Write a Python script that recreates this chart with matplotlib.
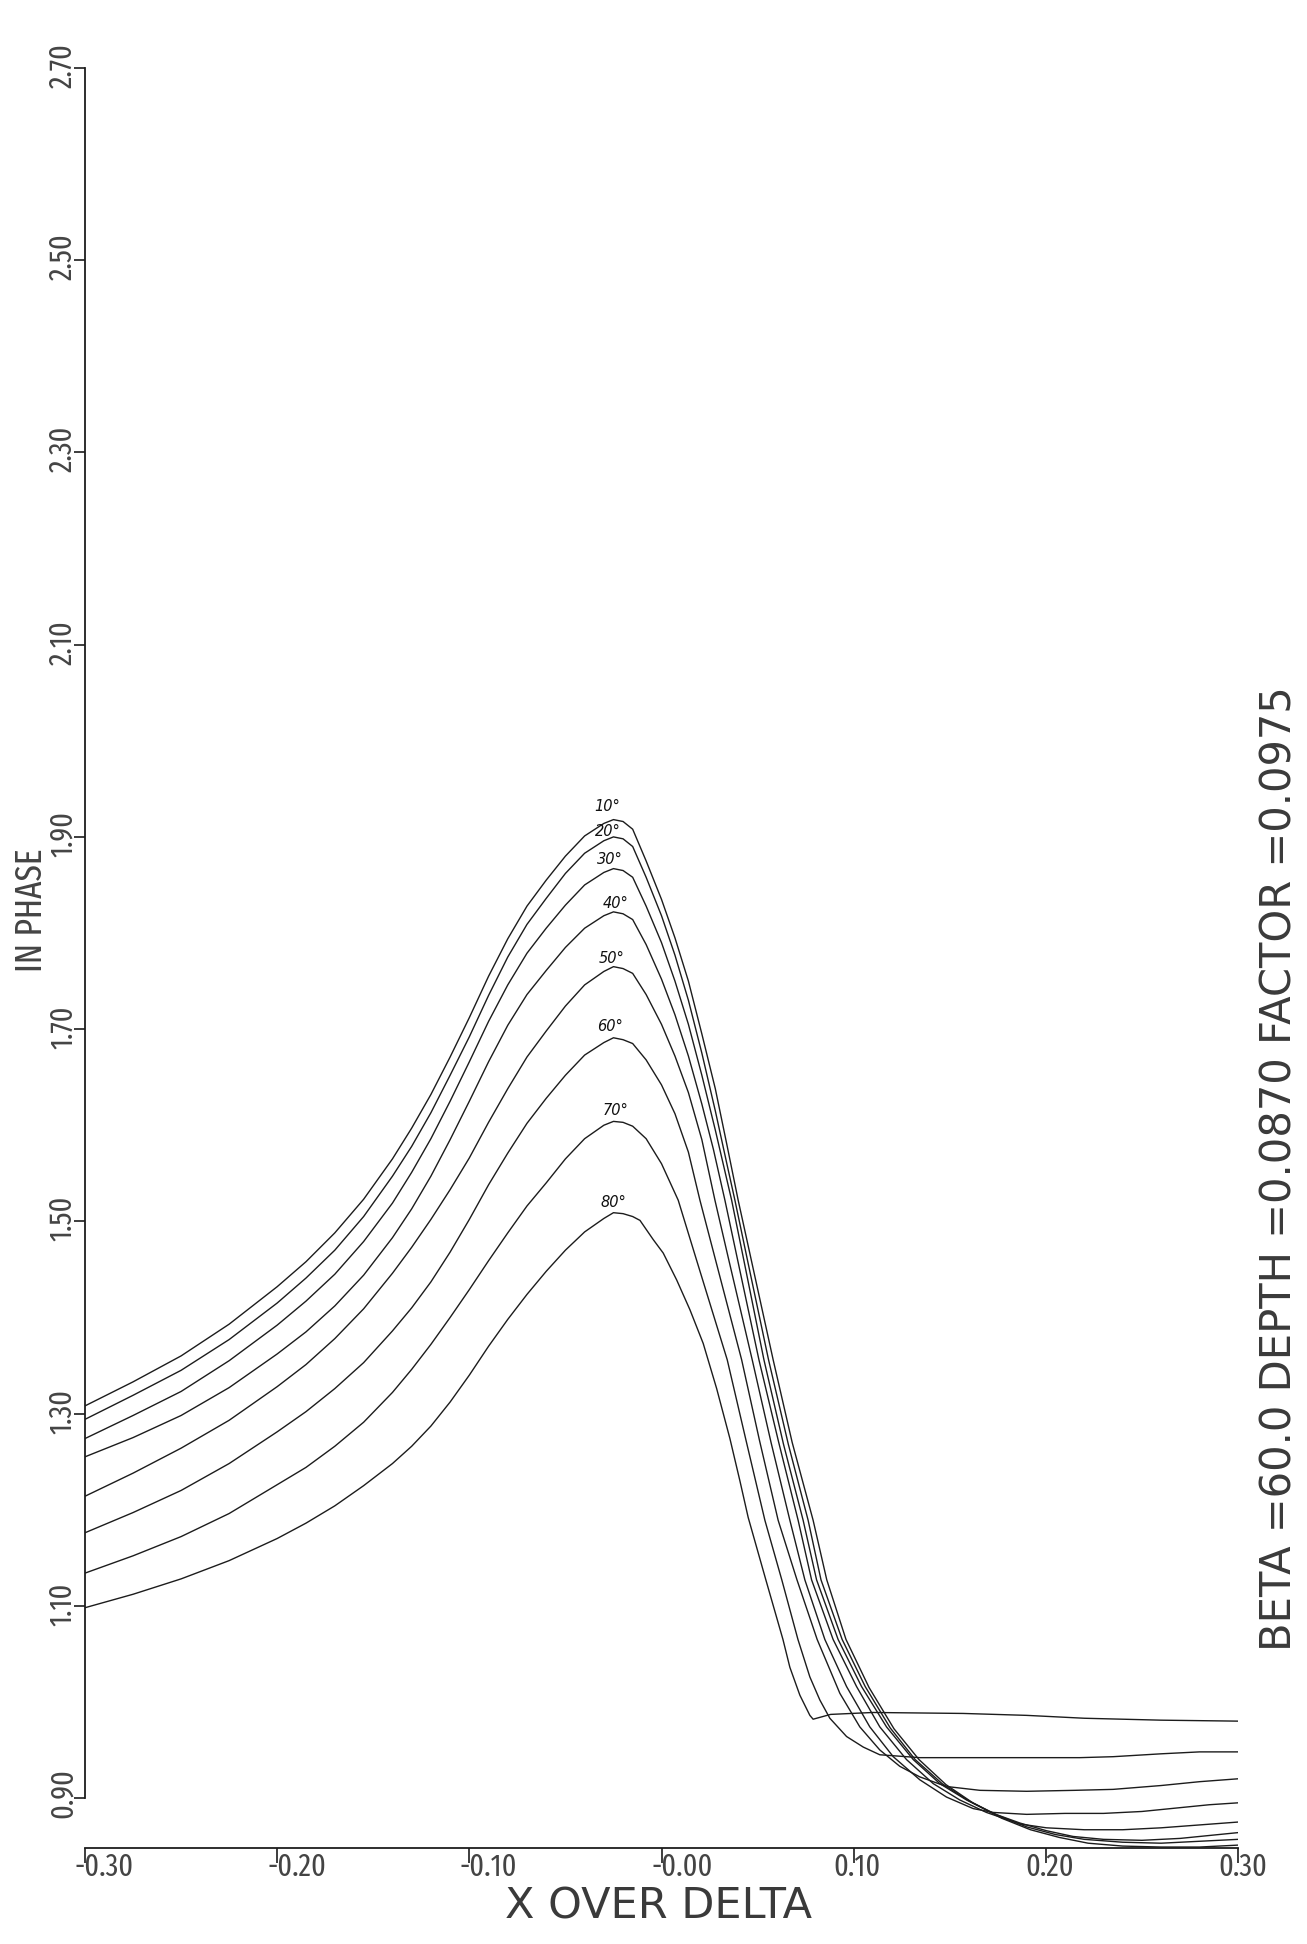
import matplotlib
matplotlib.use('Agg')
import numpy as np
import matplotlib.pyplot as plt
from matplotlib.transforms import offset_copy

# ---- data ----
angle_labels = ['10°', '20°', '30°', '40°', '50°', '60°', '70°', '80°']

# rising side, shared x positions up to the peak
x_rise = [-0.30, -0.275, -0.25, -0.225, -0.20, -0.185, -0.17, -0.155, -0.14, -0.13, -0.12,
          -0.11, -0.10, -0.09, -0.08, -0.07, -0.06, -0.05, -0.04, -0.03, -0.025]
rise_10 = [1.308, 1.333, 1.360, 1.393, 1.432, 1.458, 1.488, 1.523, 1.565, 1.597, 1.632,
           1.671, 1.712, 1.755, 1.794, 1.828, 1.855, 1.880, 1.901, 1.914, 1.918]
rise_20 = [1.294, 1.319, 1.345, 1.377, 1.415, 1.441, 1.470, 1.505, 1.547, 1.578, 1.613,
           1.652, 1.692, 1.735, 1.775, 1.809, 1.836, 1.862, 1.883, 1.896, 1.900]
rise_30 = [1.274, 1.298, 1.323, 1.355, 1.392, 1.417, 1.445, 1.479, 1.519, 1.551, 1.586,
           1.625, 1.666, 1.708, 1.746, 1.779, 1.805, 1.829, 1.850, 1.863, 1.867]
rise_40 = [1.255, 1.275, 1.298, 1.327, 1.362, 1.385, 1.412, 1.444, 1.483, 1.513, 1.547,
           1.585, 1.625, 1.666, 1.704, 1.736, 1.761, 1.785, 1.805, 1.818, 1.822]
rise_50 = [1.214, 1.238, 1.264, 1.293, 1.328, 1.351, 1.378, 1.409, 1.446, 1.473, 1.502,
           1.533, 1.566, 1.603, 1.638, 1.671, 1.698, 1.724, 1.746, 1.760, 1.765]
rise_60 = [1.176, 1.197, 1.220, 1.248, 1.281, 1.302, 1.326, 1.353, 1.386, 1.410, 1.437,
           1.468, 1.502, 1.538, 1.571, 1.602, 1.628, 1.652, 1.673, 1.686, 1.691]
rise_70 = [1.134, 1.152, 1.172, 1.196, 1.226, 1.244, 1.266, 1.291, 1.322, 1.346, 1.372,
           1.400, 1.429, 1.459, 1.488, 1.516, 1.540, 1.565, 1.586, 1.600, 1.604]
rise_80 = [1.098, 1.112, 1.128, 1.147, 1.170, 1.186, 1.204, 1.225, 1.248, 1.266, 1.287,
           1.312, 1.340, 1.370, 1.398, 1.424, 1.448, 1.470, 1.489, 1.503, 1.509]

# falling side, each curve has its own x positions
fall_x_10 = [-0.020, -0.015, -0.008, 0.000, 0.007, 0.014, 0.021, 0.028, 0.034, 0.0399, 0.0467, 0.0581, 0.068,
             0.0789, 0.086, 0.096, 0.108, 0.121, 0.134, 0.148, 0.162, 0.177, 0.192, 0.207, 0.222, 0.240,
             0.260, 0.280, 0.300]
fall_y_10 = [1.916, 1.908, 1.875, 1.835, 1.795, 1.750, 1.695, 1.638, 1.580, 1.522, 1.460, 1.356, 1.270,
             1.189, 1.127, 1.065, 1.015, 0.972, 0.940, 0.914, 0.895, 0.879, 0.867, 0.859, 0.853, 0.850,
             0.849, 0.849, 0.851]
fall_x_20 = [-0.020, -0.015, -0.008, 0.000, 0.007, 0.014, 0.021, 0.028, 0.034, 0.0382, 0.0447, 0.0557, 0.066,
             0.0763, 0.083, 0.094, 0.106, 0.119, 0.132, 0.146, 0.160, 0.175, 0.190, 0.205, 0.220, 0.240,
             0.260, 0.280, 0.300]
fall_y_20 = [1.898, 1.890, 1.858, 1.818, 1.777, 1.730, 1.675, 1.615, 1.560, 1.522, 1.460, 1.356, 1.268,
             1.189, 1.127, 1.065, 1.016, 0.973, 0.940, 0.915, 0.897, 0.882, 0.870, 0.862, 0.857, 0.854,
             0.853, 0.855, 0.857]
fall_x_30 = [-0.020, -0.015, -0.008, 0.000, 0.007, 0.014, 0.021, 0.028, 0.0365, 0.0428, 0.0533, 0.0635, 0.0737,
             0.0807, 0.0919, 0.1041, 0.1171, 0.131, 0.1448, 0.1587, 0.1726, 0.1865, 0.2003, 0.2142, 0.230,
             0.250, 0.270, 0.285, 0.300]
fall_y_30 = [1.865, 1.858, 1.828, 1.790, 1.750, 1.705, 1.652, 1.595, 1.522, 1.460, 1.356, 1.268, 1.189,
             1.127, 1.065, 1.016, 0.974, 0.940, 0.915, 0.898, 0.884, 0.874, 0.866, 0.860, 0.857,
             0.856, 0.858, 0.861, 0.864]
fall_x_40 = [-0.020, -0.015, -0.008, 0.000, 0.007, 0.014, 0.021, 0.027, 0.033, 0.0396, 0.0507, 0.061, 0.0711,
             0.0781, 0.0893, 0.1015, 0.1136, 0.1275, 0.1414, 0.1552, 0.1691, 0.1865, 0.2003, 0.220, 0.240,
             0.260, 0.280, 0.300]
fall_y_40 = [1.820, 1.814, 1.788, 1.752, 1.715, 1.672, 1.622, 1.575, 1.522, 1.460, 1.356, 1.270, 1.189,
             1.127, 1.065, 1.016, 0.974, 0.940, 0.915, 0.898, 0.885, 0.873, 0.869, 0.867, 0.867,
             0.869, 0.872, 0.875]
fall_x_50 = [-0.020, -0.015, -0.008, 0.000, 0.007, 0.014, 0.021, 0.0278, 0.0350, 0.0472, 0.057, 0.0668, 0.0746,
             0.085, 0.0963, 0.1084, 0.1206, 0.1344, 0.1483, 0.1622, 0.1726, 0.190, 0.210, 0.230, 0.250,
             0.270, 0.285, 0.300]
fall_y_50 = [1.763, 1.758, 1.736, 1.705, 1.672, 1.634, 1.585, 1.522, 1.460, 1.356, 1.270, 1.189, 1.127,
             1.065, 1.016, 0.974, 0.943, 0.919, 0.901, 0.889, 0.885, 0.883, 0.884, 0.884, 0.886,
             0.890, 0.893, 0.895]
fall_x_60 = [-0.020, -0.015, -0.008, 0.000, 0.007, 0.014, 0.020, 0.0281, 0.0417, 0.051, 0.0607, 0.0705, 0.081,
             0.0928, 0.1032, 0.1136, 0.124, 0.1344, 0.1483, 0.1657, 0.190, 0.215, 0.235, 0.260, 0.280, 0.300]
fall_y_60 = [1.689, 1.685, 1.668, 1.642, 1.612, 1.572, 1.522, 1.460, 1.356, 1.272, 1.189, 1.127, 1.065,
             1.009, 0.974, 0.950, 0.933, 0.922, 0.912, 0.908, 0.907, 0.908, 0.909, 0.913, 0.917, 0.920]
fall_x_70 = [-0.020, -0.015, -0.008, 0.000, 0.0087, 0.0182, 0.0342, 0.044, 0.0538, 0.0626, 0.071, 0.0772,
             0.0824, 0.0876, 0.0963, 0.105, 0.1136, 0.1344, 0.170, 0.2177, 0.235, 0.260, 0.280, 0.300]
fall_y_70 = [1.603, 1.599, 1.586, 1.560, 1.522, 1.460, 1.356, 1.272, 1.189, 1.127, 1.065, 1.026,
             1.002, 0.983, 0.964, 0.953, 0.945, 0.942, 0.942, 0.942, 0.943, 0.946, 0.948, 0.948]
fall_x_80 = [-0.020, -0.015, -0.0112, -0.0043, 0.0009, 0.0079, 0.0148, 0.0217, 0.0287, 0.0356, 0.0408, 0.0451,
             0.0543, 0.0632, 0.0668, 0.072, 0.0772, 0.0789, 0.088, 0.110, 0.157, 0.190, 0.220, 0.260, 0.300]
fall_y_80 = [1.508, 1.505, 1.501, 1.481, 1.467, 1.439, 1.408, 1.373, 1.326, 1.274, 1.230, 1.192,
             1.127, 1.065, 1.036, 1.007, 0.986, 0.982, 0.987, 0.989, 0.988, 0.986, 0.983, 0.981, 0.980]

# hand-written angle notes near the peaks
note_x = [-0.028, -0.028, -0.027, -0.024, -0.026, -0.027, -0.024, -0.025]
note_y = [1.932, 1.906, 1.876, 1.831, 1.774, 1.703, 1.615, 1.520]

x_ticks = [-0.30, -0.20, -0.10, 0.00, 0.10, 0.20, 0.30]
x_tick_labels = ['-0.30', '-0.20', '-0.10', '-0.00', '0.10', '0.20', '0.30']
y_ticks = [0.90, 1.10, 1.30, 1.50, 1.70, 1.90, 2.10, 2.30, 2.50, 2.70]
y_tick_labels = ['0.90', '1.10', '1.30', '1.50', '1.70', '1.90', '2.10', '2.30', '2.50', '2.70']

rises = [rise_10, rise_20, rise_30, rise_40, rise_50, rise_60, rise_70, rise_80]
falls_x = [fall_x_10, fall_x_20, fall_x_30, fall_x_40, fall_x_50, fall_x_60, fall_x_70, fall_x_80]
falls_y = [fall_y_10, fall_y_20, fall_y_30, fall_y_40, fall_y_50, fall_y_60, fall_y_70, fall_y_80]

# ---- figure ----
W, H = 1307, 1944
fig = plt.figure(figsize=(W / 100, H / 100), dpi=100)
ax = fig.add_axes([85 / W, 1 - 1848 / H, (1238 - 85) / W, (1848 - 68) / H])
ax.set_xlim(-0.30, 0.30)
ax.set_ylim(0.848, 2.70)

ink = '#1c1c1c'
for rise, fx, fy in zip(rises, falls_x, falls_y):
    xs = np.concatenate([x_rise, fx])
    ys = np.concatenate([rise, fy])
    ax.plot(xs, ys, color=ink, lw=1.0, solid_joinstyle='round')

for lab, tx, ty in zip(angle_labels, note_x, note_y):
    ax.text(tx, ty, lab, fontsize=10.5, style='italic', color='#111111',
            ha='center', va='center')

# plotter style axes: y axis only spans its ticks, x axis sits below it
for s in ['top', 'right']:
    ax.spines[s].set_visible(False)
ax.spines['left'].set_bounds(0.90, 2.70)
ax.spines['bottom'].set_bounds(-0.30, 0.30)
for s in ['left', 'bottom']:
    ax.spines[s].set_linewidth(1.3)
    ax.spines[s].set_color(ink)
ax.set_xticks(x_ticks)
ax.set_yticks(y_ticks)
ax.tick_params(axis='x', direction='out', length=11, width=1.2, color=ink, labelbottom=False)
ax.tick_params(axis='y', direction='out', length=8, width=1.2, color=ink, labelleft=False)

narrow = dict(family=['Fira Sans Extra Condensed', 'DejaVu Sans'], fontweight='normal', color='#444444')
wide = dict(family=['DejaVu Sans'], color='#3a3a3a')

for v, lab in zip(x_ticks, x_tick_labels):
    dx = -10 if lab.startswith('-') else -20
    tr = offset_copy(ax.transData, fig=fig, x=dx, y=-19, units='dots')
    ax.text(v, 0.848, lab, transform=tr, ha='left', va='center', fontsize=22, **narrow)
for v, lab in zip(y_ticks, y_tick_labels):
    tr = offset_copy(ax.transData, fig=fig, x=-22, y=-20, units='dots')
    ax.text(-0.30, v, lab, transform=tr, ha='center', va='bottom', rotation=90, fontsize=22, **narrow)

fig.text(658 / W, 1 - 1906 / H, 'X OVER DELTA', ha='center', va='center', fontsize=31, **wide)
fig.text(32 / W, 1 - 910 / H, 'IN PHASE', ha='center', va='center', rotation=90, fontsize=26, **narrow)
fig.text(1279 / W, 1 - 1169 / H, 'BETA =60.0 DEPTH =0.0870 FACTOR =0.0975',
         ha='center', va='center', rotation=90, fontsize=30, **wide)

fig.savefig('out.png', dpi=100, facecolor='white')
